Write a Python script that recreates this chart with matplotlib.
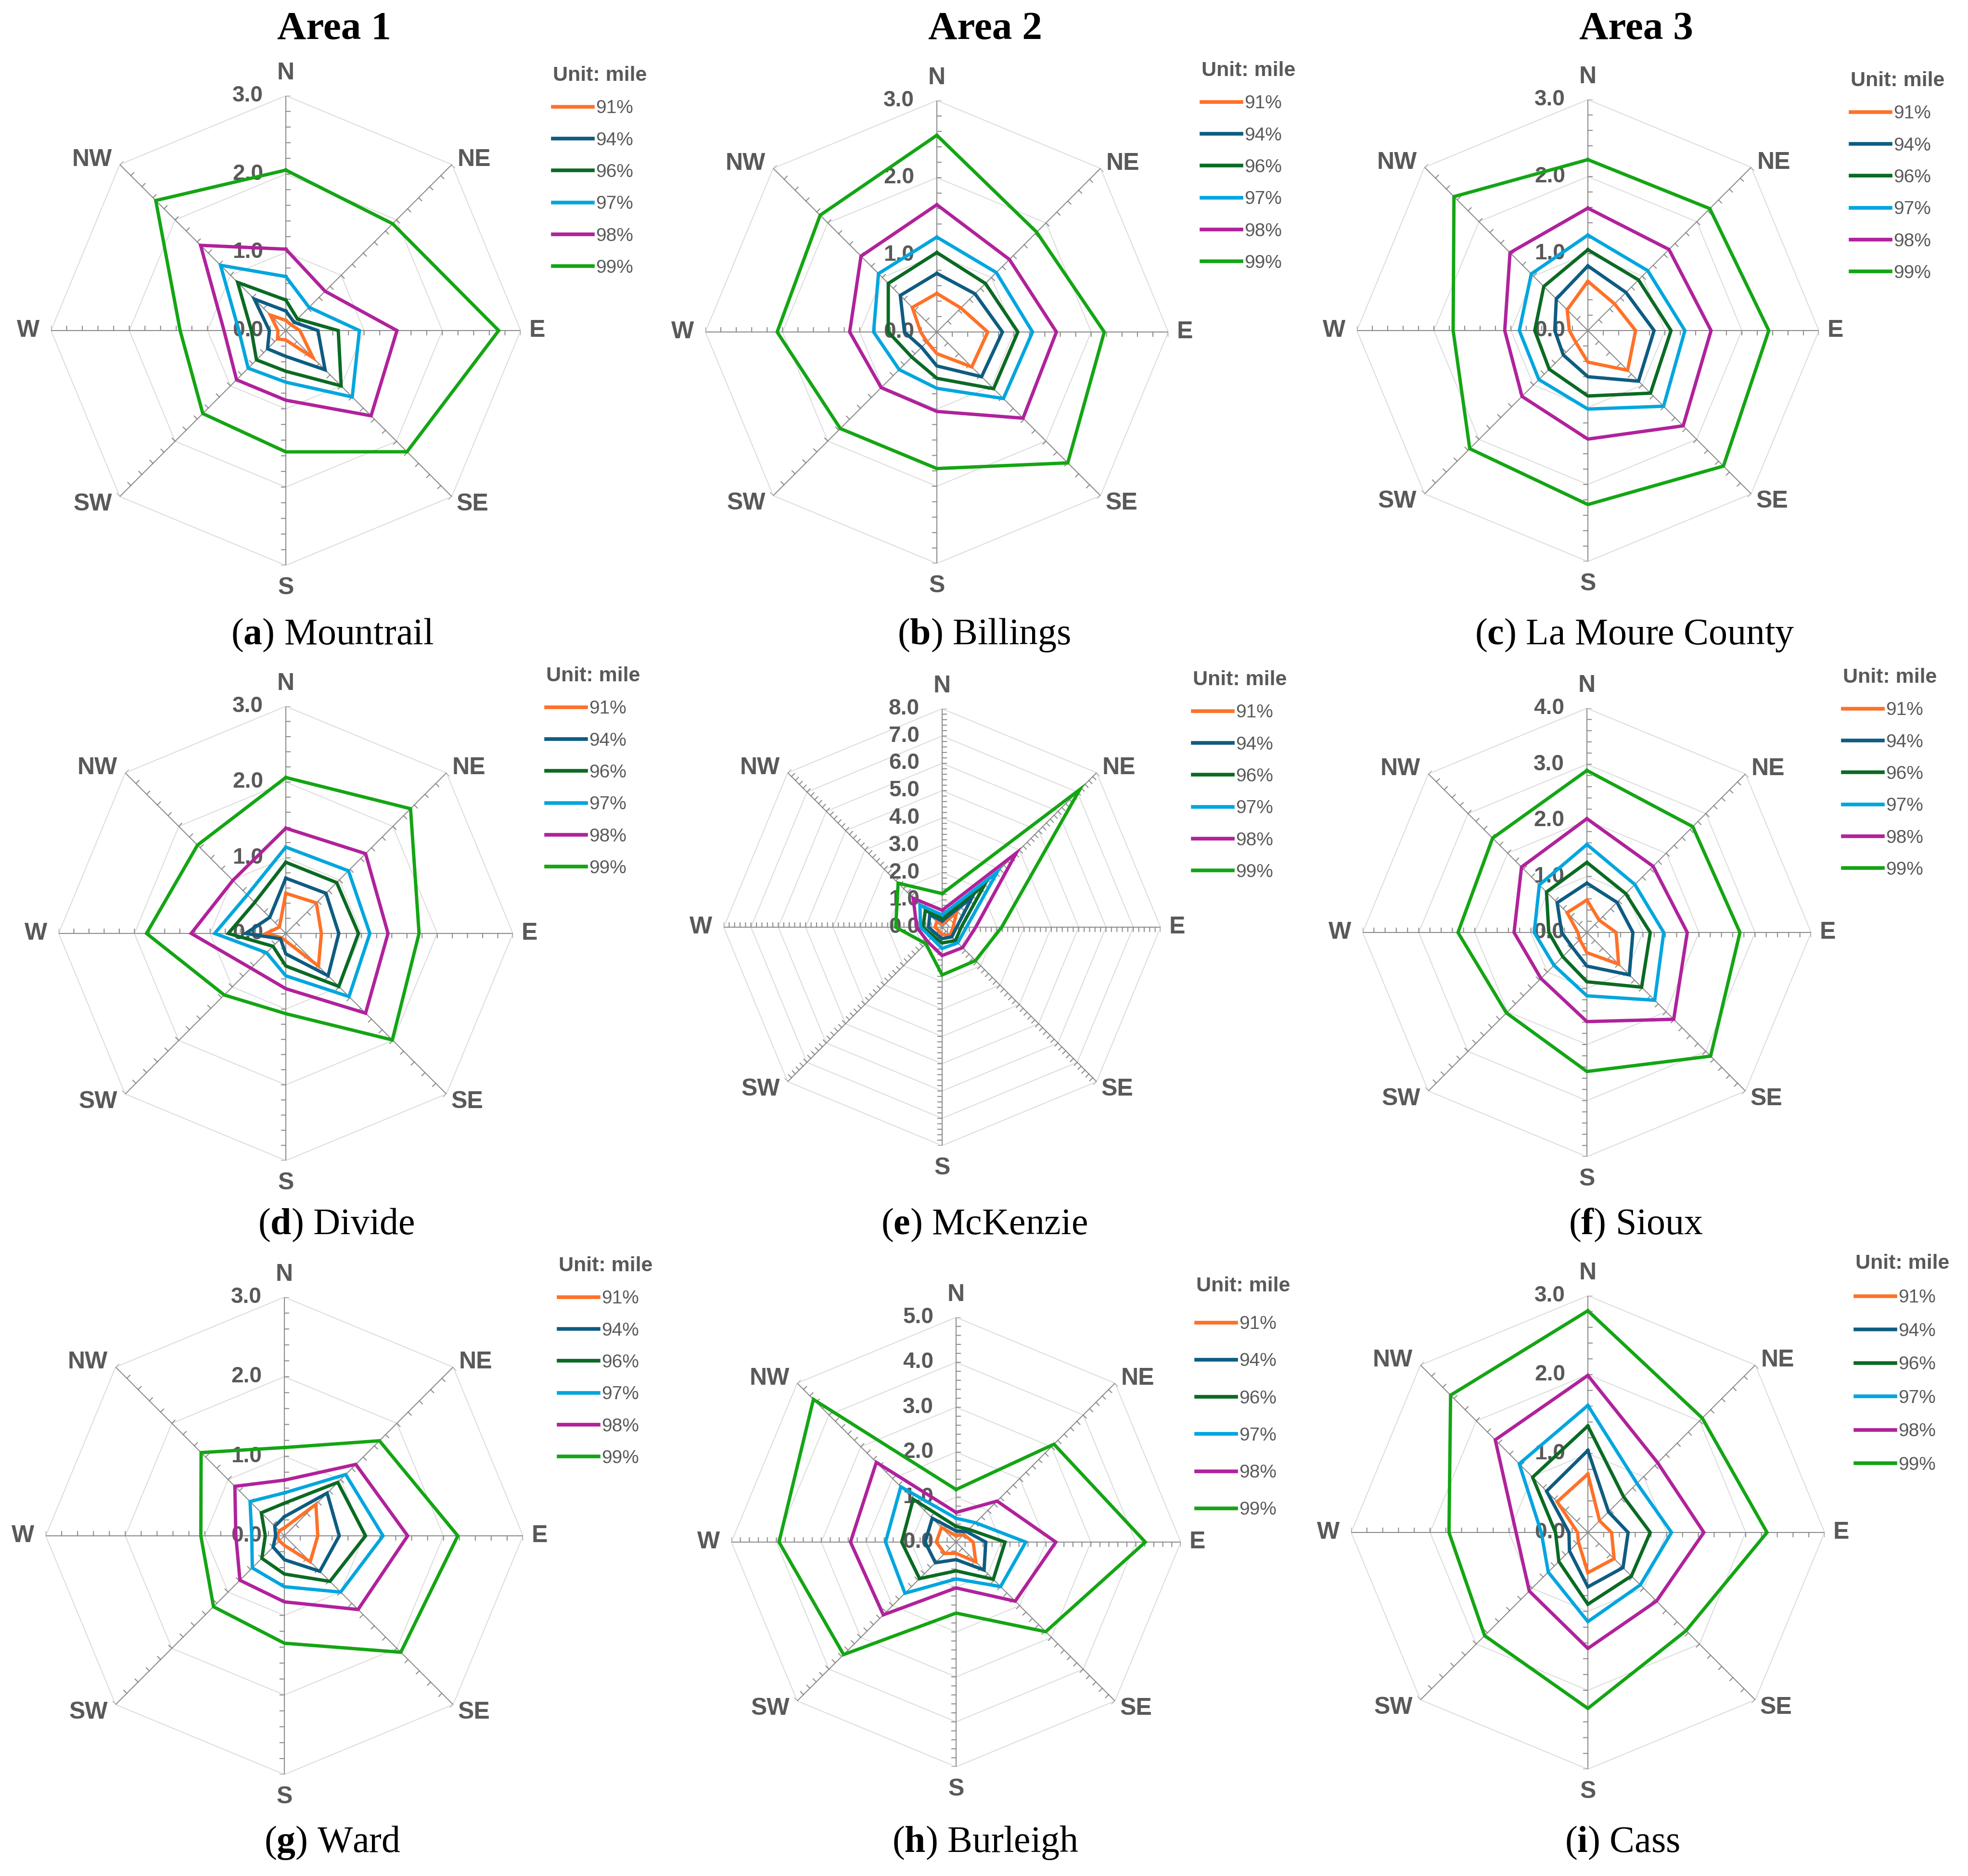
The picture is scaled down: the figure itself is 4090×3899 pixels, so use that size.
"""
Radar charts of distance percentiles by direction, nine counties in three areas
"""

import numpy as np
import matplotlib
matplotlib.use('Agg')
import matplotlib.pyplot as plt

plt.rcParams['font.family'] = ['Liberation Sans', 'DejaVu Sans']
plt.rcParams['mathtext.fontset'] = 'custom'
plt.rcParams['mathtext.rm'] = 'Liberation Serif'
plt.rcParams['mathtext.bf'] = 'Liberation Serif:bold'

# --- data (mile), order N, NE, E, SE, S, SW, W, NW ; rows 91..99% ---
directions = ['N', 'NE', 'E', 'SE', 'S', 'SW', 'W', 'NW']
levels = ['91%', '94%', '96%', '97%', '98%', '99%']
area_titles = ['Area 1', 'Area 2', 'Area 3']

mountrail = [
    [0.13, 0.10, 0.18, 0.49, 0.12, 0.15, 0.10, 0.28],
    [0.25, 0.15, 0.41, 0.71, 0.33, 0.33, 0.21, 0.57],
    [0.39, 0.21, 0.67, 1.00, 0.52, 0.53, 0.44, 0.87],
    [0.69, 0.42, 0.94, 1.20, 0.66, 0.68, 0.60, 1.18],
    [1.04, 0.71, 1.42, 1.54, 0.89, 0.89, 0.79, 1.54],
    [2.05, 1.93, 2.72, 2.19, 1.55, 1.50, 1.35, 2.35],
]
billings = [
    [0.50, 0.44, 0.66, 0.64, 0.28, 0.18, 0.21, 0.45],
    [0.76, 0.70, 0.85, 0.82, 0.44, 0.28, 0.42, 0.67],
    [1.03, 0.89, 1.05, 1.04, 0.60, 0.46, 0.63, 0.89],
    [1.23, 1.09, 1.24, 1.22, 0.73, 0.69, 0.82, 1.07],
    [1.65, 1.33, 1.55, 1.58, 1.03, 1.02, 1.13, 1.39],
    [2.55, 1.83, 2.17, 2.40, 1.77, 1.77, 2.07, 2.14],
]
la_moure = [
    [0.64, 0.49, 0.62, 0.73, 0.41, 0.22, 0.24, 0.38],
    [0.84, 0.70, 0.86, 0.93, 0.60, 0.45, 0.43, 0.58],
    [1.05, 0.93, 1.08, 1.15, 0.85, 0.71, 0.69, 0.81],
    [1.24, 1.10, 1.26, 1.39, 1.02, 0.90, 0.89, 1.04],
    [1.59, 1.49, 1.60, 1.75, 1.41, 1.21, 1.08, 1.43],
    [2.22, 2.24, 2.35, 2.49, 2.26, 2.17, 1.75, 2.46],
]
divide = [
    [0.53, 0.57, 0.47, 0.61, 0.10, 0.08, 0.26, 0.12],
    [0.73, 0.75, 0.70, 0.79, 0.27, 0.10, 0.53, 0.30],
    [0.94, 0.95, 0.96, 0.99, 0.43, 0.24, 0.76, 0.58],
    [1.14, 1.17, 1.11, 1.18, 0.56, 0.36, 0.94, 0.72],
    [1.39, 1.49, 1.35, 1.49, 0.73, 0.65, 1.25, 0.99],
    [2.06, 2.33, 1.76, 1.99, 1.06, 1.15, 1.84, 1.65],
]
mckenzie = [
    [0.13, 0.74, 0.40, 0.42, 0.26, 0.18, 0.26, 0.28],
    [0.23, 1.56, 0.53, 0.50, 0.42, 0.33, 0.50, 0.64],
    [0.32, 2.20, 0.70, 0.69, 0.58, 0.46, 0.70, 0.87],
    [0.45, 2.85, 0.89, 0.81, 0.78, 0.55, 0.79, 1.15],
    [0.62, 3.84, 1.23, 1.06, 1.04, 0.75, 0.93, 1.50],
    [1.23, 7.13, 2.18, 1.73, 1.75, 0.85, 1.70, 2.28],
]
sioux = [
    [0.58, 0.31, 0.52, 0.80, 0.36, 0.18, 0.16, 0.50],
    [0.88, 0.76, 0.82, 1.07, 0.60, 0.37, 0.45, 0.75],
    [1.25, 0.98, 1.13, 1.38, 0.88, 0.61, 0.68, 1.02],
    [1.57, 1.21, 1.37, 1.71, 1.13, 0.83, 0.94, 1.20],
    [2.03, 1.67, 1.79, 2.19, 1.59, 1.16, 1.30, 1.65],
    [2.89, 2.67, 2.73, 3.12, 2.48, 2.03, 2.30, 2.38],
]
ward = [
    [0.10, 0.56, 0.42, 0.46, 0.12, 0.09, 0.09, 0.09],
    [0.24, 0.76, 0.69, 0.63, 0.30, 0.20, 0.11, 0.17],
    [0.41, 0.95, 1.02, 0.81, 0.48, 0.40, 0.24, 0.41],
    [0.54, 1.09, 1.24, 1.00, 0.64, 0.57, 0.41, 0.61],
    [0.70, 1.27, 1.55, 1.31, 0.83, 0.79, 0.61, 0.88],
    [1.11, 1.69, 2.18, 2.07, 1.35, 1.26, 1.05, 1.48],
]
burleigh = [
    [0.14, 0.24, 0.38, 0.62, 0.25, 0.36, 0.44, 0.46],
    [0.25, 0.33, 0.66, 0.88, 0.39, 0.65, 0.69, 0.75],
    [0.35, 0.40, 1.09, 1.17, 0.64, 1.15, 1.21, 1.35],
    [0.53, 0.61, 1.55, 1.40, 0.82, 1.61, 1.57, 1.74],
    [0.66, 1.29, 2.22, 1.86, 1.02, 2.29, 2.35, 2.51],
    [1.17, 3.08, 4.21, 2.82, 1.58, 3.54, 3.94, 4.49],
]
cass = [
    [0.74, 0.21, 0.30, 0.47, 0.51, 0.17, 0.13, 0.55],
    [1.04, 0.37, 0.51, 0.63, 0.69, 0.33, 0.24, 0.74],
    [1.35, 0.64, 0.79, 0.78, 0.91, 0.52, 0.41, 0.99],
    [1.61, 0.88, 1.06, 0.94, 1.13, 0.71, 0.59, 1.23],
    [1.99, 1.25, 1.47, 1.23, 1.47, 1.05, 0.91, 1.66],
    [2.81, 2.05, 2.27, 1.76, 2.23, 1.85, 1.76, 2.46],
]

# --- style ---
W_PX, H_PX = 4091, 3899
series_colors = ['#ff7128', '#0e5c82', '#0b6a23', '#00a6de', '#b0229b', '#14a514']
text_color = '#595959'
spoke_color = '#8c8c8c'
grid_color = '#d9d9d9'

# direction label placement: pixel offset from the spoke end, alignment
label_place = {
    'N': ((0, 47), 'center'), 'NE': ((12, 10), 'left'),
    'E': ((34, 0), 'center'), 'SE': ((10, -16), 'left'),
    'S': ((0, -47), 'center'), 'SW': ((-16, -16), 'right'),
    'W': ((-47, 0), 'center'), 'NW': ((-16, 10), 'right'),
}

# letter, name, data, rmax, centre x/y (px), radius (px), legend x/y offset, legend spacing
panels = [
    ('a', 'Mountrail', mountrail, 3, 594, 687, 488, 555, -534, 0.78),
    ('b', 'Billings', billings, 3, 1947, 690, 481, 550, -547, 0.78),
    ('c', 'La Moure County', la_moure, 3, 3300, 687, 480, 546, -523, 0.78),
    ('d', 'Divide', divide, 3, 594, 1940, 472, 541, -539, 0.78),
    ('e', 'McKenzie', mckenzie, 8, 1958, 1927, 454, 521, -518, 0.78),
    ('f', 'Sioux', sioux, 4, 3298, 1938, 466, 532, -534, 0.78),
    ('g', 'Ward', ward, 3, 591, 3192, 496, 570, -565, 0.78),
    ('h', 'Burleigh', burleigh, 5, 1987, 3205, 467, 499, -536, 1.06),
    ('i', 'Cass', cass, 3, 3300, 3185, 492, 556, -563, 0.86),
]
caption_pos = [(691, 1320), (2045, 1320), (3397, 1320),
               (699, 2546), (2045, 2546), (3400, 2546),
               (691, 3830), (2048, 3830), (3371, 3830)]
title_pos = [(695, 62), (2048, 62), (3400, 62)]

angles = np.deg2rad(np.arange(0, 360, 45))


def radar_panel(fig, letter, name, data, rmax, cx, cy, R, lx, ly, lspace):
    rect = [(cx - R) / W_PX, 1 - (cy + R) / H_PX, 2 * R / W_PX, 2 * R / H_PX]
    ax = fig.add_axes(rect, projection='polar')
    ax.set_theta_zero_location('N')
    ax.set_theta_direction(-1)
    ax.set_ylim(0, rmax)
    ax.set_axis_off()

    closed = np.append(angles, angles[0])

    # octagonal grid
    for g in range(1, rmax + 1):
        ax.plot(closed, [g] * len(closed), color=grid_color, lw=1.3, zorder=1)

    # spokes + small ticks on clockwise side
    L = 9.0 / R * rmax
    th, rr = [], []
    for ang in angles:
        th += [ang, ang, np.nan]
        rr += [0, rmax, np.nan]
        for k in range(1, int(round(rmax / 0.2)) + 1):
            v = k * 0.2
            th += [ang, ang + np.arctan2(L, v), np.nan]
            rr += [v, np.hypot(v, L), np.nan]
    ax.plot(th, rr, color=spoke_color, lw=1.5, zorder=2)

    # value labels on N spoke
    for v in range(0, rmax + 1):
        ax.annotate(f'{v:.1f}', xy=(0, v), xytext=(-47, 0),
                    textcoords='offset pixels', ha='right', va='center',
                    fontsize=33, fontweight='bold', color=text_color,
                    zorder=3, annotation_clip=False)

    # direction labels
    for ang, d in zip(angles, directions):
        off, ha = label_place[d]
        ax.annotate(d, xy=(ang, rmax), xytext=off, textcoords='offset pixels',
                    ha=ha, va='center', fontsize=36, fontweight='bold',
                    color=text_color, annotation_clip=False)

    # series
    handles = []
    for vals, col, lab in zip(data, series_colors, levels):
        line, = ax.plot(closed, vals + vals[:1], color=col, lw=5,
                        solid_joinstyle='miter', label=lab, zorder=4)
        handles.append(line)

    leg = ax.legend(handles=handles, loc='upper left',
                    bbox_to_anchor=((cx + lx) / W_PX, 1 - (cy + ly - 16) / H_PX),
                    bbox_transform=fig.transFigure, frameon=False,
                    title='Unit: mile', alignment='left',
                    title_fontproperties={'weight': 'bold', 'size': 31},
                    fontsize=28, labelcolor=text_color,
                    handlelength=2.13, handletextpad=0.15,
                    labelspacing=lspace, borderpad=0, borderaxespad=0)
    leg.get_title().set_color(text_color)
    for h in leg.legend_handles:
        h.set_linewidth(5.5)
    return ax


fig = plt.figure(figsize=(W_PX / 100, H_PX / 100), dpi=100, facecolor='white')

for p, (capx, capy) in zip(panels, caption_pos):
    radar_panel(fig, *p)
    fig.text(capx / W_PX, 1 - capy / H_PX, rf'($\mathbf{{{p[0]}}}$) {p[1]}',
             ha='center', va='center', fontsize=56,
             family='Liberation Serif', color='black')

for t, (tx, ty) in zip(area_titles, title_pos):
    fig.text(tx / W_PX, 1 - ty / H_PX, t, ha='center', va='center',
             fontsize=60, fontweight='bold', family='Liberation Serif',
             color='black')

fig.savefig('out.png', dpi=100, facecolor='white')
